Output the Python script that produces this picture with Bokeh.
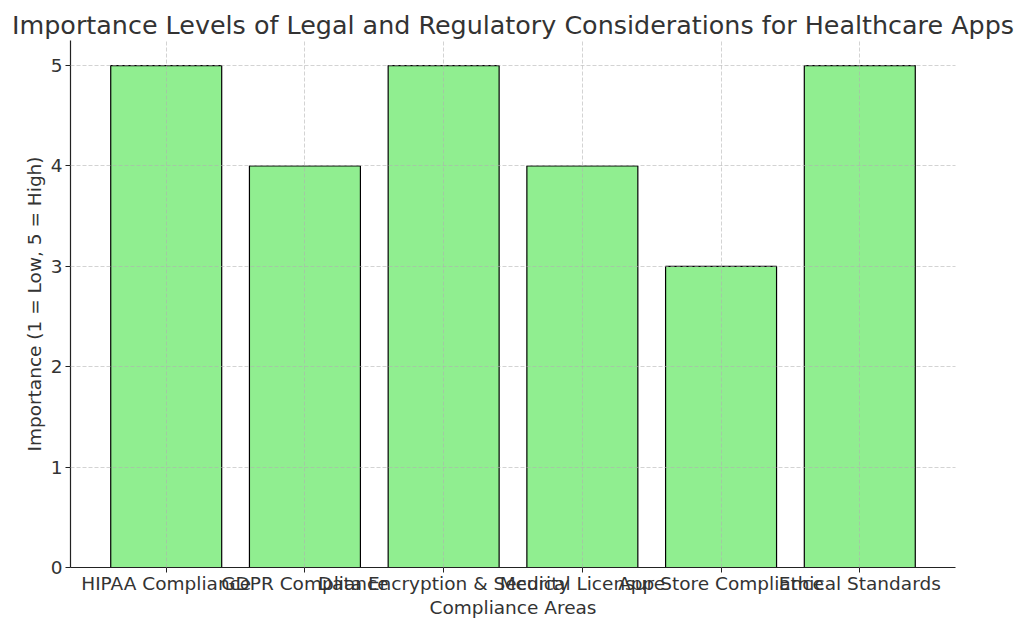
from bokeh.plotting import figure
from bokeh.models import Range1d, FixedTicker
from bokeh.embed import file_html
from bokeh.resources import INLINE

categories = ["HIPAA Compliance", "GDPR Compliance", "Data Encryption & Security",
              "Medical Licensure", "App Store Compliance", "Ethical Standards"]
importance = [5, 4, 5, 4, 3, 5]
y_ticks = [0, 1, 2, 3, 4, 5]

xs = list(range(len(categories)))
FONT = "DejaVu Sans"
TXT = "#333333"

p = figure(width=1016, height=620, output_backend="svg", toolbar_location=None,
           x_range=Range1d(-0.69, len(categories) - 1 + 0.69), y_range=Range1d(0, 5.25),
           min_border_left=70, min_border_right=61, min_border_top=40, min_border_bottom=53,
           title="Importance Levels of Legal and Regulatory Considerations for Healthcare Apps")
p.outline_line_color = None
p.background_fill_color = "white"
p.border_fill_color = "white"

p.vbar(x=xs, top=importance, width=0.8, fill_color="#90EE90", line_color="black", line_width=1.2)

p.title.text_font = FONT
p.title.text_font_size = "25.4px"
p.title.text_font_style = "normal"
p.title.text_color = TXT
p.title.align = "center"
p.title.offset = 0
p.title.standoff = 2

p.xaxis.ticker = FixedTicker(ticks=xs)
p.xaxis.major_label_overrides = {i: c for i, c in enumerate(categories)}
p.yaxis.ticker = FixedTicker(ticks=y_ticks)
p.xaxis.axis_label = "Compliance Areas"
p.yaxis.axis_label = "Importance (1 = Low, 5 = High)"

for ax in (p.xaxis[0], p.yaxis[0]):
    ax.axis_label_text_font = FONT
    ax.axis_label_text_font_size = "18.5px"
    ax.axis_label_text_font_style = "normal"
    ax.axis_label_text_color = TXT
    ax.major_label_text_font = FONT
    ax.major_label_text_font_size = "18.5px"
    ax.major_label_text_color = TXT
    ax.axis_line_color = "#222222"
    ax.axis_line_width = 1.2
    ax.major_tick_line_color = "#222222"
    ax.major_tick_out = 5
    ax.major_tick_in = 0
    ax.minor_tick_line_color = None
    ax.major_label_standoff = 3
    ax.axis_label_standoff = 3

p.xaxis.major_label_standoff = 0
p.xaxis[0].axis_label_standoff = 0
p.xaxis.major_label_orientation = "horizontal"

for g in (p.xgrid[0], p.ygrid[0]):
    g.grid_line_color = "#b0b0b0"
    g.grid_line_dash = "4 2"
    g.grid_line_alpha = 0.7
    g.grid_line_width = 0.8
    g.level = "annotation"

open("out.html", "w").write(file_html(p, INLINE))
